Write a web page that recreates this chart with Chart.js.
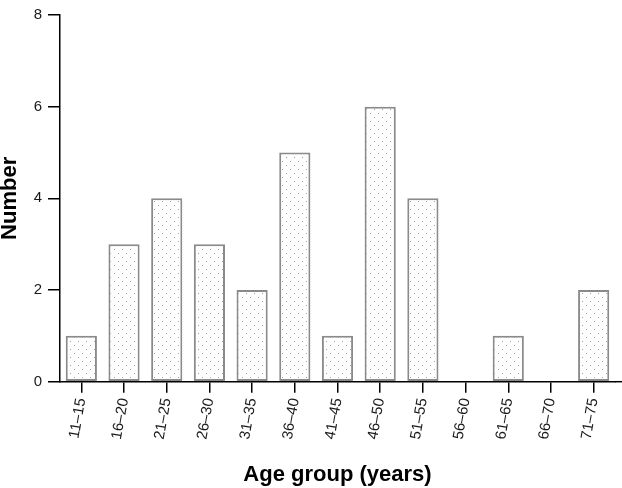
<!DOCTYPE html>
<html>
<head>
<meta charset="utf-8">
<script src="https://cdn.jsdelivr.net/npm/chart.js@4/dist/chart.umd.min.js"></script>
<style>
  html, body { margin: 0; padding: 0; background: #fff; }
  canvas { display: block; }
</style>
</head>
<body>
<canvas id="ages" width="622" height="488"></canvas>
<script>
const ageGroups = ['11–15', '16–20', '21–25', '26–30', '31–35', '36–40', '41–45',
  '46–50', '51–55', '56–60', '61–65', '66–70', '71–75']
const counts = [1, 3, 4, 3, 2, 5, 1, 6, 4, 0, 1, 0, 2]
const yTicks = [0, 2, 4, 6, 8]

// dotted fill like the original
function dotPattern() {
  const c = document.createElement('canvas')
  c.width = 8
  c.height = 8
  const g = c.getContext('2d')
  g.fillStyle = '#fff'
  g.fillRect(0, 0, 8, 8)
  g.fillStyle = '#a0a0a0'
  g.fillRect(2, 1, 1, 1)
  g.fillRect(6, 5, 1, 1)
  return g.createPattern(c, 'repeat')
}

const fontFamily = '"Liberation Sans", Arial, Helvetica, sans-serif'

// x axis line runs on past the last category, to the edge
const axisTail = {
  id: 'axisTail',
  afterDraw(chart) {
    const ctx = chart.ctx
    const y = chart.scales.y.getPixelForValue(0)
    ctx.save()
    ctx.strokeStyle = '#000'
    ctx.lineWidth = 1.5
    ctx.beginPath()
    ctx.moveTo(chart.chartArea.right, y)
    ctx.lineTo(chart.width, y)
    ctx.stroke()
    ctx.restore()
  }
}

new Chart(document.getElementById('ages'), {
  type: 'bar',
  data: {
    labels: ageGroups,
    datasets: [{
      data: counts,
      backgroundColor: dotPattern(),
      borderColor: '#8a8a8a',
      borderWidth: 2,
      borderSkipped: false,
      barPercentage: 0.73,
      categoryPercentage: 1
    }]
  },
  options: {
    responsive: false,
    animation: false,
    devicePixelRatio: 1,
    layout: { padding: { top: 7, right: 7, left: 0, bottom: 0 } },
    plugins: { legend: { display: false }, tooltip: { enabled: false } },
    scales: {
      x: {
        offset: true,
        grid: {
          offset: false,
          drawOnChartArea: false,
          drawTicks: true,
          tickLength: 11,
          color: '#000',
          lineWidth: 1.5
        },
        border: { display: true, color: '#000', width: 1.5 },
        ticks: {
          minRotation: 80,
          maxRotation: 80,
          padding: 4,
          color: '#1a1a1a',
          font: { family: fontFamily, size: 15 }
        },
        title: {
          display: true,
          text: 'Age group (years)',
          color: '#000',
          padding: { top: 0, bottom: 0 },
          font: { family: fontFamily, size: 22, weight: 'bold' }
        },
        afterFit(scale) { scale.height = 106.3 }
      },
      y: {
        min: 0,
        max: 8,
        grid: {
          drawOnChartArea: false,
          drawTicks: true,
          tickLength: 12,
          color: '#000',
          lineWidth: 1.5
        },
        border: { display: true, color: '#000', width: 1.5 },
        afterBuildTicks(scale) { scale.ticks = yTicks.map(v => ({ value: v })) },
        ticks: {
          padding: 6,
          color: '#1a1a1a',
          font: { family: fontFamily, size: 15 }
        },
        title: {
          display: true,
          text: 'Number',
          color: '#000',
          padding: { top: -3, bottom: 0 },
          font: { family: fontFamily, size: 22, weight: 'bold' }
        },
        afterFit(scale) { scale.width = 60 }
      }
    }
  },
  plugins: [axisTail]
})
</script>
</body>
</html>
